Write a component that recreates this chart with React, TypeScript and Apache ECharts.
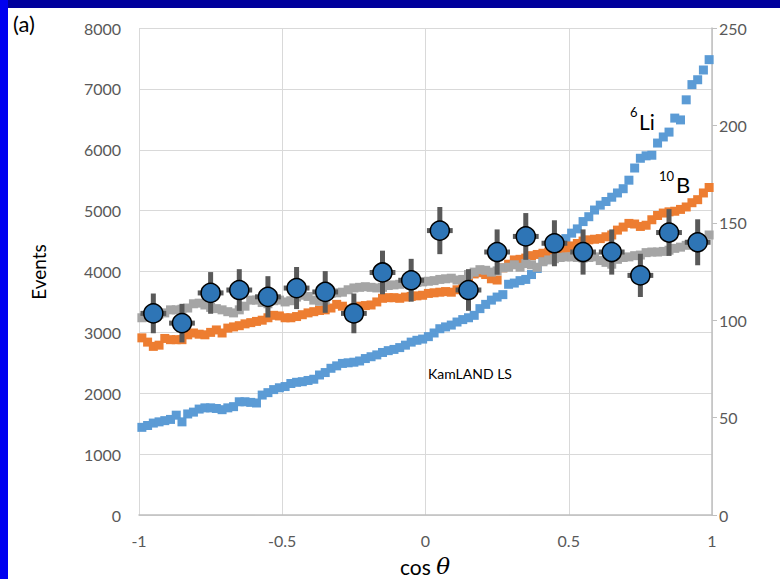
import React, { useEffect, useRef } from "react";
import * as echarts from "echarts";

const cosTheta = [
  -0.99, -0.97, -0.95, -0.93, -0.91, -0.89, -0.87, -0.85, -0.83, -0.81,
  -0.79, -0.77, -0.75, -0.73, -0.71, -0.69, -0.67, -0.65, -0.63, -0.61,
  -0.59, -0.57, -0.55, -0.53, -0.51, -0.49, -0.47, -0.45, -0.43, -0.41,
  -0.39, -0.37, -0.35, -0.33, -0.31, -0.29, -0.27, -0.25, -0.23, -0.21,
  -0.19, -0.17, -0.15, -0.13, -0.11, -0.09, -0.07, -0.05, -0.03, -0.01,
  0.01, 0.03, 0.05, 0.07, 0.09, 0.11, 0.13, 0.15, 0.17, 0.19,
  0.21, 0.23, 0.25, 0.27, 0.29, 0.31, 0.33, 0.35, 0.37, 0.39,
  0.41, 0.43, 0.45, 0.47, 0.49, 0.51, 0.53, 0.55, 0.57, 0.59,
  0.61, 0.63, 0.65, 0.67, 0.69, 0.71, 0.73, 0.75, 0.77, 0.79,
  0.81, 0.83, 0.85, 0.87, 0.89, 0.91, 0.93, 0.95, 0.97, 0.99,
];

const li6 = [
  1440, 1470, 1510, 1530, 1550, 1570, 1640, 1530, 1660, 1690,
  1740, 1760, 1760, 1750, 1730, 1760, 1780, 1860, 1860, 1850,
  1840, 1970, 2010, 2060, 2090, 2110, 2160, 2180, 2190, 2210,
  2230, 2300, 2340, 2410, 2450, 2490, 2500, 2510, 2530, 2570,
  2600, 2630, 2670, 2700, 2720, 2750, 2790, 2840, 2870, 2890,
  2930, 2990, 3060, 3090, 3120, 3170, 3210, 3240, 3280, 3390,
  3460, 3530, 3580, 3620, 3790, 3810, 3850, 3870, 3950, 4050,
  4180, 4280, 4350, 4450, 4540, 4630, 4700, 4820, 4900, 5010,
  5090, 5150, 5220, 5290, 5360, 5500, 5700, 5860, 5900, 5910,
  6110, 6210, 6290, 6520, 6490, 6820, 7070, 7150, 7310, 7480,
];

const b10 = [
  2910, 2840, 2770, 2790, 2900, 2880, 2880, 2880, 2960, 2990,
  2970, 2960, 3000, 3040, 2990, 3070, 3090, 3110, 3140, 3160,
  3180, 3200, 3240, 3280, 3270, 3240, 3240, 3260, 3290, 3320,
  3340, 3360, 3370, 3400, 3460, 3430, 3380, 3400, 3430, 3440,
  3450, 3500, 3560, 3570, 3570, 3560, 3580, 3590, 3600, 3610,
  3640, 3650, 3660, 3670, 3660, 3700, 3780, 3900, 3960, 3980,
  3950, 3880, 3860, 4060, 4120, 4190, 4200, 4220, 4260, 4280,
  4300, 4320, 4340, 4360, 4380, 4420, 4460, 4500, 4520, 4530,
  4540, 4570, 4600, 4680, 4730, 4790, 4780, 4740, 4760, 4850,
  4920, 4960, 4980, 4990, 5020, 5060, 5130, 5180, 5290, 5380,
];

const kamland = [
  3240, 3250, 3290, 3300, 3320, 3370, 3370, 3380, 3400, 3470,
  3480, 3450, 3410, 3390, 3370, 3340, 3320, 3370, 3430, 3530,
  3530, 3490, 3470, 3520, 3530, 3500, 3520, 3580, 3610, 3590,
  3530, 3510, 3530, 3640, 3650, 3660, 3700, 3730, 3740, 3750,
  3740, 3730, 3740, 3770, 3780, 3790, 3800, 3810, 3820, 3830,
  3840, 3850, 3870, 3880, 3890, 3860, 3870, 3950, 3990, 4030,
  4020, 3990, 4010, 4060, 4070, 4110, 4070, 4130, 4110, 4070,
  4160, 4190, 4210, 4230, 4240, 4240, 4230, 4220, 4230, 4240,
  4180, 4150, 4120, 4200, 4230, 4240, 4260, 4270, 4310, 4320,
  4320, 4330, 4350, 4380, 4400, 4430, 4450, 4480, 4530, 4600,
];

const dataX = [-0.95, -0.85, -0.75, -0.65, -0.55, -0.45, -0.35, -0.25, -0.15, -0.05, 0.05, 0.15, 0.25, 0.35, 0.45, 0.55, 0.65, 0.75, 0.85, 0.95];
const dataY = [103.5, 98.5, 114, 115.5, 112, 116.5, 114.5, 103.5, 124.5, 120.5, 146, 115.5, 135, 143, 139.5, 135, 135, 123, 145, 140];
const dataErr = [10.2, 9.9, 10.7, 10.7, 10.6, 10.8, 10.7, 10.2, 11.2, 11.0, 12.1, 10.7, 11.6, 12.0, 11.8, 11.6, 11.6, 11.1, 12.0, 11.8];
const xBarHalf = 0.045;

const leftTicks = { min: 0, max: 8000, interval: 1000 };
const rightTicks = { min: 0, max: 250, interval: 50 };

const FONT = "Lato, 'Noto Sans', sans-serif";

export default function App() {
  const ref = useRef<HTMLDivElement>(null);
  useEffect(() => {
    if (!ref.current) return;
    const chart = echarts.init(ref.current, undefined, { renderer: "svg" });
    const zip = (ys: number[]) => cosTheta.map((x, i) => [x, ys[i]]);
    const option: any = {
      animation: false,
      backgroundColor: "#ffffff",
      grid: { left: 139, right: 68, top: 28, bottom: 64 },
      xAxis: {
        type: "value",
        min: -1,
        max: 1,
        interval: 0.5,
        axisLine: { show: true, onZero: false, lineStyle: { color: "#bfbfbf", width: 1.5 } },
        axisTick: { show: false },
        splitLine: { show: true, lineStyle: { color: "#d9d9d9", width: 1 } },
        axisLabel: { color: "#595959", fontSize: 16, fontFamily: FONT, margin: 17 },
      },
      yAxis: [
        {
          type: "value",
          ...leftTicks,
          position: "left",
          axisLine: { show: false },
          axisTick: { show: false },
          splitLine: { show: true, lineStyle: { color: "#d9d9d9", width: 1 } },
          axisLabel: {
            color: "#595959",
            fontSize: 16,
            fontFamily: FONT,
            margin: 18,
            formatter: (v: number) => String(v),
          },
        },
        {
          type: "value",
          ...rightTicks,
          position: "right",
          axisLine: { show: true, lineStyle: { color: "#bfbfbf", width: 1.5 } },
          axisTick: { show: true, inside: false, length: 5, lineStyle: { color: "#bfbfbf" } },
          splitLine: { show: false },
          axisLabel: {
            color: "#595959",
            fontSize: 16,
            fontFamily: FONT,
            margin: 7,
            formatter: (v: number) => String(v),
          },
        },
      ],
      series: [
        {
          name: "6Li",
          type: "scatter",
          symbol: "rect",
          symbolSize: 9,
          itemStyle: { color: "#5b9bd5", opacity: 1 },
          data: zip(li6),
          z: 2,
        },
        {
          name: "10B",
          type: "scatter",
          symbol: "rect",
          symbolSize: 9,
          itemStyle: { color: "#ed7d31", opacity: 1 },
          data: zip(b10),
          z: 3,
        },
        {
          name: "KamLAND LS",
          type: "scatter",
          symbol: "rect",
          symbolSize: 9,
          itemStyle: { color: "#a5a5a5", opacity: 1 },
          data: zip(kamland),
          z: 4,
        },
        {
          name: "errors",
          type: "custom",
          yAxisIndex: 1,
          z: 5,
          data: dataX.map((x, i) => [x, dataY[i], dataErr[i]]),
          encode: { x: 0, y: 1 },
          renderItem: (params: any, api: any) => {
            const x = api.value(0);
            const y = api.value(1);
            const e = api.value(2);
            const l = api.coord([x - xBarHalf, y]);
            const r = api.coord([x + xBarHalf, y]);
            const t = api.coord([x, y + e]);
            const b = api.coord([x, y - e]);
            const st = { stroke: "#595959", lineWidth: 5 };
            return {
              type: "group",
              children: [
                { type: "line", shape: { x1: l[0], y1: l[1], x2: r[0], y2: r[1] }, style: st },
                { type: "line", shape: { x1: t[0], y1: t[1], x2: b[0], y2: b[1] }, style: st },
              ],
            };
          },
        },
        {
          name: "data",
          type: "scatter",
          yAxisIndex: 1,
          symbol: "circle",
          symbolSize: 19,
          z: 6,
          itemStyle: { color: "#2e75b6", borderColor: "#000000", borderWidth: 1.5, opacity: 1 },
          data: dataX.map((x, i) => [x, dataY[i]]),
        },
      ],
      graphic: [
        { type: "rect", left: 0, top: 0, shape: { width: 780, height: 8 }, style: { fill: "#00009c" }, z: 100 },
        { type: "rect", left: 0, top: 0, shape: { width: 8, height: 579 }, style: { fill: "#0000f0" }, z: 100 },
        {
          type: "text",
          x: 13,
          y: 23,
          style: { text: "(a)", fill: "#000000", font: `22px ${FONT}`, align: "left", verticalAlign: "middle" },
          z: 100,
        },
        {
          type: "text",
          x: 38,
          y: 272,
          rotation: Math.PI / 2,
          style: { text: "Events", fill: "#000000", font: `19px ${FONT}`, align: "center", verticalAlign: "middle" },
          z: 100,
        },
        {
          type: "text",
          x: 425,
          y: 566,
          style: {
            text: "{a|cos }{b|θ}",
            align: "center",
            verticalAlign: "middle",
            rich: {
              a: { fontSize: 21, fontFamily: FONT, fill: "#000000" },
              b: { fontSize: 23, fontFamily: "'DejaVu Serif', serif", fontStyle: "italic", fill: "#000000" },
            },
          },
          z: 100,
        },
        {
          type: "text",
          x: 630,
          y: 112,
          style: { text: "6", fill: "#000000", font: `13px ${FONT}`, align: "left", verticalAlign: "middle" },
          z: 100,
        },
        {
          type: "text",
          x: 639,
          y: 121,
          style: { text: "Li", fill: "#000000", font: `21px ${FONT}`, align: "left", verticalAlign: "middle" },
          z: 100,
        },
        {
          type: "text",
          x: 659,
          y: 176,
          style: { text: "10", fill: "#000000", font: `13px ${FONT}`, align: "left", verticalAlign: "middle" },
          z: 100,
        },
        {
          type: "text",
          x: 676,
          y: 184,
          style: { text: "B", fill: "#000000", font: `22px ${FONT}`, align: "left", verticalAlign: "middle" },
          z: 100,
        },
        {
          type: "text",
          x: 428,
          y: 373,
          style: { text: "KamLAND LS", fill: "#000000", font: `14px ${FONT}`, align: "left", verticalAlign: "middle" },
          z: 100,
        },
      ],
    };
    chart.setOption(option);
    return () => chart.dispose();
  }, []);
  return (
    <div
      ref={ref}
      style={{ position: "absolute", left: 0, top: 0, width: 780, height: 579, background: "#ffffff" }}
    />
  );
}
